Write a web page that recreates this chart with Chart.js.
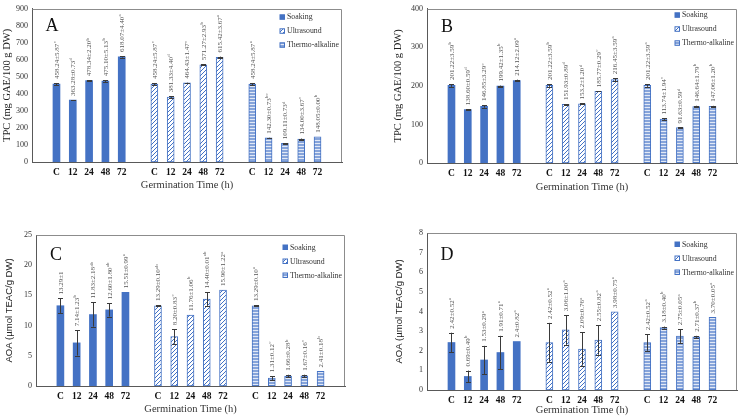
<!DOCTYPE html>
<html>
<head>
<meta charset="utf-8">
<script src="https://cdn.jsdelivr.net/npm/chart.js@4.4.0/dist/chart.umd.min.js"></script>
<style>
  body { margin: 0; background: #fff; }
  #wrap { position: relative; width: 738px; height: 417px; overflow: hidden; }
  canvas { position: absolute; }
</style>
</head>
<body>
<div id="wrap">
  <canvas id="chartA" width="370" height="205" style="left:0;top:0"></canvas>
  <canvas id="chartB" width="368" height="205" style="left:370px;top:0"></canvas>
  <canvas id="chartC" width="370" height="212" style="left:0;top:205px"></canvas>
  <canvas id="chartD" width="368" height="212" style="left:370px;top:205px"></canvas>
</div>
<script>
// Germination time per treatment group
const times = ['C', '12', '24', '48', '72'];
const treatments = ['Soaking', 'Ultrasound', 'Thermo-alkaline'];

// A - TPC
const tpcA_soak = [458.24, 363.28, 478.34, 475.10, 618.07];
const tpcA_ultra = [458.24, 381.33, 464.43, 571.27, 615.42];
const tpcA_thermo = [458.24, 142.30, 109.11, 134.00, 148.05];
const tpcA_soakErr = [5.87, 0.73, 2.20, 5.13, 4.40];
const tpcA_ultraErr = [5.87, 4.40, 1.47, 2.93, 3.67];
const tpcA_thermoErr = [5.87, 0.73, 0.73, 3.67, 0.00];
const tpcA_soakTxt = ['458.24±5.87^c', '363.28±0.73^d', '478.34±2.20^b', '475.10±5.13^b', '618.07±4.40^a'];
const tpcA_ultraTxt = ['458.24±5.87^c', '381.33±4.40^d', '464.43±1.47^c', '571.27±2.93^b', '615.42±3.67^a'];
const tpcA_thermoTxt = ['458.24±5.87^a', '142.30±0.73^bc', '109.11±0.73^d', '134.00±3.67^c', '148.05±0.00^b'];

// B - TPC
const tpcB_soak = [201.22, 138.60, 146.85, 199.42, 214.12];
const tpcB_ultra = [201.22, 151.93, 153.2, 185.77, 216.45];
const tpcB_thermo = [201.22, 113.74, 91.63, 146.64, 147.06];
const tpcB_soakErr = [3.59, 0.59, 3.29, 1.35, 2.09];
const tpcB_ultraErr = [3.59, 0.89, 1.20, 0.29, 3.59];
const tpcB_thermoErr = [3.59, 1.94, 0.59, 1.79, 1.20];
const tpcB_soakTxt = ['201.22±3.59^b', '138.60±0.59^d', '146.85±3.29^c', '199.42±1.35^b', '214.12±2.09^a'];
const tpcB_ultraTxt = ['201.22±3.59^b', '151.93±0.89^d', '153.2±1.20^d', '185.77±0.29^c', '216.45±3.59^a'];
const tpcB_thermoTxt = ['201.22±3.59^a', '113.74±1.94^c', '91.63±0.59^d', '146.64±1.79^b', '147.06±1.20^b'];

// C - AOA
const aoaC_soak = [13.29, 7.14, 11.83, 12.60, 15.51];
const aoaC_ultra = [13.29, 8.20, 11.76, 14.40, 15.90];
const aoaC_thermo = [13.29, 1.31, 1.66, 1.67, 2.41];
const aoaC_soakErr = [1.2, 2.1, 2.0, 1.1, 0];
const aoaC_ultraErr = [0.1, 1.2, 0, 1.1, 0];
const aoaC_thermoErr = [0.1, 0.3, 0.2, 0.2, 0];
const aoaC_soakTxt = ['13.29±1', '7.14±1.23^b', '11.83±2.18^ab', '12.60±1.80^ab', '15.51±0.99^a'];
const aoaC_ultraTxt = ['13.29±0.10^ab', '8.20±0.83^c', '11.76±1.06^b', '14.40±0.01^ab', '15.90±1.22^a'];
const aoaC_thermoTxt = ['13.29±0.10^a', '1.31±0.12^c', '1.66±0.28^b', '1.67±0.16^c', '2.41±0.18^b'];

// D - AOA
const aoaD_soak = [2.42, 0.69, 1.53, 1.91, 2.47];
const aoaD_ultra = [2.42, 3.06, 2.09, 2.55, 3.98];
const aoaD_thermo = [2.42, 3.18, 2.75, 2.71, 3.70];
const aoaD_soakErr = [0.5, 0.3, 0.72, 0.85, 0];
const aoaD_ultraErr = [1.0, 0.75, 0.85, 0.75, 0];
const aoaD_thermoErr = [0.42, 0.05, 0.35, 0.05, 0];
const aoaD_soakTxt = ['2.42±0.52^a', '0.69±0.49^b', '1.53±0.29^a', '1.91±0.71^a', '2.4±0.82^a'];
const aoaD_ultraTxt = ['2.42±0.52^a', '3.06±1.00^a', '2.09±0.76^a', '2.55±0.82^a', '3.98±0.75^a'];
const aoaD_thermoTxt = ['2.42±0.52^a', '3.18±0.40^b', '2.75±0.05^a', '2.71±0.37^b', '3.70±0.05^a'];

const SERIF = '"Liberation Serif", "Times New Roman", serif';
const SANS = '"Liberation Sans", Arial, sans-serif';
const BLUE = '#4472c4';

// category slots: blank, 5 times, blank, 5 times, blank, 5 times, blank
const slots = ['', ...times, '', ...times, '', ...times, ''];

function place(vals, g) {
  const out = new Array(slots.length).fill(null);
  vals.forEach((v, i) => { out[1 + g * 6 + i] = v; });
  return out;
}

function makePattern(kind) {
  const c = document.createElement('canvas');
  const g = c.getContext('2d');
  if (kind === 'diag') {
    c.width = 4; c.height = 4;
    g.fillStyle = '#ffffff';
    g.fillRect(0, 0, 4, 4);
    g.strokeStyle = BLUE;
    g.lineWidth = 1;
    g.beginPath();
    g.moveTo(-1, 5); g.lineTo(5, -1);
    g.moveTo(-1, 1); g.lineTo(1, -1);
    g.moveTo(3, 5); g.lineTo(5, 3);
    g.stroke();
  } else {
    c.width = 4; c.height = 3;
    g.fillStyle = '#86a4da';
    g.fillRect(0, 0, 4, 3);
    g.fillStyle = '#e2e9f6';
    g.fillRect(0, 2, 4, 1);
  }
  return g.createPattern(c, 'repeat');
}

const fills = [BLUE, makePattern('diag'), makePattern('horiz')];

// error bars + rotated value labels
const barExtras = {
  id: 'barExtras',
  afterDatasetsDraw(chart) {
    const ctx = chart.ctx;
    const yScale = chart.scales.y;
    chart.data.datasets.forEach((ds, di) => {
      const meta = chart.getDatasetMeta(di);
      meta.data.forEach((bar, i) => {
        const v = ds.data[i];
        if (v == null) return;
        const e = ds.errors[i] || 0;
        const yTop = yScale.getPixelForValue(v + e);
        const yBot = yScale.getPixelForValue(v - e);
        const x = Math.round(bar.x) + 0.5;
        ctx.save();
        if (e > 0) {
          ctx.strokeStyle = '#3a3a3a';
          ctx.lineWidth = 1;
          ctx.beginPath();
          ctx.moveTo(x, yBot); ctx.lineTo(x, yTop);
          ctx.moveTo(x - 2.5, Math.round(yTop) + 0.5); ctx.lineTo(x + 2.5, Math.round(yTop) + 0.5);
          ctx.moveTo(x - 2.5, Math.round(yBot) + 0.5); ctx.lineTo(x + 2.5, Math.round(yBot) + 0.5);
          ctx.stroke();
        }
        const parts = ds.texts[i].split('^');
        ctx.translate(bar.x, Math.min(yTop, bar.y) - 4);
        ctx.rotate(-Math.PI / 2);
        ctx.fillStyle = '#555';
        ctx.textAlign = 'left';
        ctx.textBaseline = 'middle';
        ctx.font = '7px ' + SERIF;
        ctx.fillText(parts[0], 0, 0.5);
        if (parts[1]) {
          const w = ctx.measureText(parts[0]).width;
          ctx.font = '4.8px ' + SERIF;
          ctx.fillText(parts[1], w + 0.3, -1.6);
        }
        ctx.restore();
      });
    });
  }
};

// plot box, legend and panel letter
const panelDecor = {
  id: 'panelDecor',
  afterDraw(chart, args, opts) {
    const ctx = chart.ctx;
    const a = chart.chartArea;
    ctx.save();
    ctx.strokeStyle = '#8c8c8c';
    ctx.lineWidth = 1;
    ctx.beginPath();
    ctx.moveTo(Math.round(a.left) + 0.5, Math.round(a.top) + 0.5);
    ctx.lineTo(Math.round(a.right) - 0.5, Math.round(a.top) + 0.5);
    ctx.lineTo(Math.round(a.right) - 0.5, Math.round(a.bottom));
    ctx.stroke();

    // legend
    chart.data.datasets.forEach((ds, i) => {
      const lx = a.right - 60;
      const ly = a.top + opts.legendTop + i * 14;
      ctx.fillStyle = ds.backgroundColor;
      ctx.fillRect(lx - 2, ly - 2, 4.5, 4.5);
      ctx.strokeStyle = BLUE;
      ctx.strokeRect(lx - 2, ly - 2, 4.5, 4.5);
      ctx.fillStyle = '#333';
      ctx.font = '7.8px ' + SERIF;
      ctx.textAlign = 'left';
      ctx.textBaseline = 'middle';
      ctx.fillText(ds.label, lx + 5, ly + 0.5);
    });

    // panel letter
    ctx.fillStyle = '#111';
    ctx.font = '18px ' + SERIF;
    ctx.textAlign = 'center';
    ctx.textBaseline = 'middle';
    ctx.fillText(opts.letter, a.left + 20, a.top + opts.letterTop);
    ctx.restore();
  }
};

function makePanel(id, vals, errs, txts, p) {
  const datasets = treatments.map((name, g) => ({
    label: name,
    data: place(vals[g], g),
    errors: place(errs[g], g),
    texts: place(txts[g], g),
    backgroundColor: fills[g],
    borderColor: BLUE,
    borderWidth: g === 0 ? 0 : 1,
    borderSkipped: false,
    barThickness: 7,
    grouped: false
  }));

  new Chart(document.getElementById(id), {
    type: 'bar',
    data: { labels: slots, datasets: datasets },
    plugins: [barExtras, panelDecor],
    options: {
      responsive: false,
      animation: false,
      devicePixelRatio: 1,
      layout: { padding: { left: p.padLeft, right: p.padRight, top: p.padTop, bottom: 0 } },
      plugins: {
        legend: { display: false },
        tooltip: { enabled: false },
        panelDecor: { letter: p.letter, legendTop: p.legendTop, letterTop: p.letterTop }
      },
      scales: {
        x: {
          grid: { display: false, drawTicks: false },
          border: { display: true, color: '#595959' },
          ticks: {
            autoSkip: false, maxRotation: 0, padding: 5,
            color: '#111',
            font: { family: SERIF, size: 9.5, weight: 'bold' }
          },
          title: {
            display: true, text: 'Germination Time (h)', color: '#333',
            font: { family: SERIF, size: 10.5 },
            padding: { top: 0, bottom: p.xTitlePad }
          },
          afterFit: s => { s.height = p.xH; }
        },
        y: {
          min: 0, max: p.yMax,
          grid: { display: false, drawTicks: false },
          border: { display: true, color: '#595959' },
          ticks: {
            stepSize: p.step, padding: 4, color: '#333',
            font: { family: SERIF, size: 8 }
          },
          title: {
            display: true, text: p.yTitle, color: '#222',
            font: { family: p.yTitleFont, size: p.yTitleSize },
            padding: { top: 1, bottom: 0 }
          },
          afterFit: s => { s.width = p.yW; }
        }
      }
    }
  });
}

makePanel('chartA',
  [tpcA_soak, tpcA_ultra, tpcA_thermo],
  [tpcA_soakErr, tpcA_ultraErr, tpcA_thermoErr],
  [tpcA_soakTxt, tpcA_ultraTxt, tpcA_thermoTxt],
  { yMax: 900, step: 100, yTitle: 'TPC (mg GAE/100 g DW)', yTitleFont: SERIF, yTitleSize: 10.5, letter: 'A',
    padLeft: 0, padRight: 28, padTop: 6, yW: 32, xH: 43, xTitlePad: 13, legendTop: 8, letterTop: 17 });

makePanel('chartB',
  [tpcB_soak, tpcB_ultra, tpcB_thermo],
  [tpcB_soakErr, tpcB_ultraErr, tpcB_thermoErr],
  [tpcB_soakTxt, tpcB_ultraTxt, tpcB_thermoTxt],
  { yMax: 400, step: 100, yTitle: 'TPC (mg GAE/100 g DW)', yTitleFont: SERIF, yTitleSize: 10.5, letter: 'B',
    padLeft: 21, padRight: 1, padTop: 7, yW: 36, xH: 42, xTitlePad: 11, legendTop: 6, letterTop: 18 });

makePanel('chartC',
  [aoaC_soak, aoaC_ultra, aoaC_thermo],
  [aoaC_soakErr, aoaC_ultraErr, aoaC_thermoErr],
  [aoaC_soakTxt, aoaC_ultraTxt, aoaC_thermoTxt],
  { yMax: 25, step: 5, yTitle: 'AOA (µmol TEAC/g DW)', yTitleFont: SANS, yTitleSize: 9.5, letter: 'C',
    padLeft: 3, padRight: 25, padTop: 30, yW: 33, xH: 31, xTitlePad: 1, legendTop: 12, letterTop: 20 });

makePanel('chartD',
  [aoaD_soak, aoaD_ultra, aoaD_thermo],
  [aoaD_soakErr, aoaD_ultraErr, aoaD_thermoErr],
  [aoaD_soakTxt, aoaD_ultraTxt, aoaD_thermoTxt],
  { yMax: 8, step: 1, yTitle: 'AOA (µmol TEAC/g DW)', yTitleFont: SANS, yTitleSize: 9.5, letter: 'D',
    padLeft: 23, padRight: 1, padTop: 28, yW: 34, xH: 27, xTitlePad: 0, legendTop: 11, letterTop: 22 });
</script>
</body>
</html>
